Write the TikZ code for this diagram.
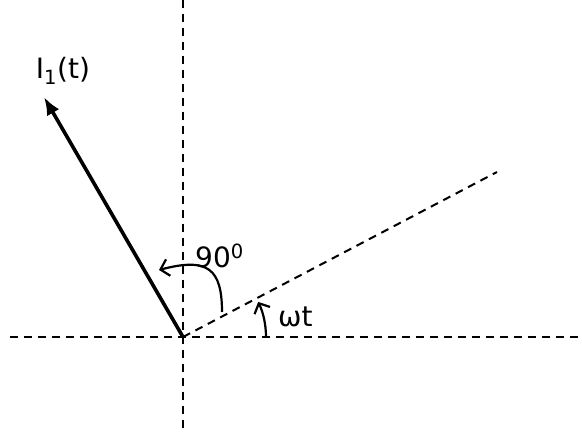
\documentclass[tikz,border=0pt]{standalone}
\usepackage{fontspec}
\setmainfont{DejaVu Sans}
\usepackage{tikz}
\usetikzlibrary{arrows.meta, positioning}

\begin{document}
\begin{tikzpicture}[
    x=1pt, y=1pt,
    axisline/.style={
        dashed, dash pattern=on 8pt off 6pt, line width=2pt, color=black
    },
    phasor/.style={
        -{Latex[length=18pt, width=14pt]}, line width=3.6pt, color=black
    },
    anglearc/.style={
        -{Straight Barb[length=8pt, width=17pt]}, line width=2.2pt, color=black
    },
    lbl/.style={
        font=\fontsize{28}{32}\selectfont, inner sep=0pt
    }
]
\useasboundingbox (-183,-99) rectangle (399,337);

% Points
\coordinate (origin) at (0,0);
\coordinate (xL) at (-173,0);
\coordinate (xR) at (395,0);
\coordinate (yT) at (0,337);
\coordinate (yB) at (0,-96);
\coordinate (rotEnd) at (314,165);
\coordinate (iTip) at (-139,240);

% Axes
\draw[axisline] (xL) -- (xR);
\draw[axisline] (yT) -- (yB);
\draw[axisline] (origin) -- (rotEnd);

% Phasor
\draw[phasor] (origin) -- (iTip);
\node[lbl] (iLabel) at (-120,266) {I\textsubscript{1}(t)};

% Angles
\draw[anglearc] (39,25) .. controls (39,68) and (25,80) .. (-24,67);
\node[lbl, anchor=base west] (rightAngle) at (12,69) {90\textsuperscript{0}};
\draw[anglearc] (83,0) arc[start angle=0, end angle=25, radius=83];
\node[lbl, anchor=base west] (omegaT) at (95,10) {ωt};

\end{tikzpicture}
\end{document}
